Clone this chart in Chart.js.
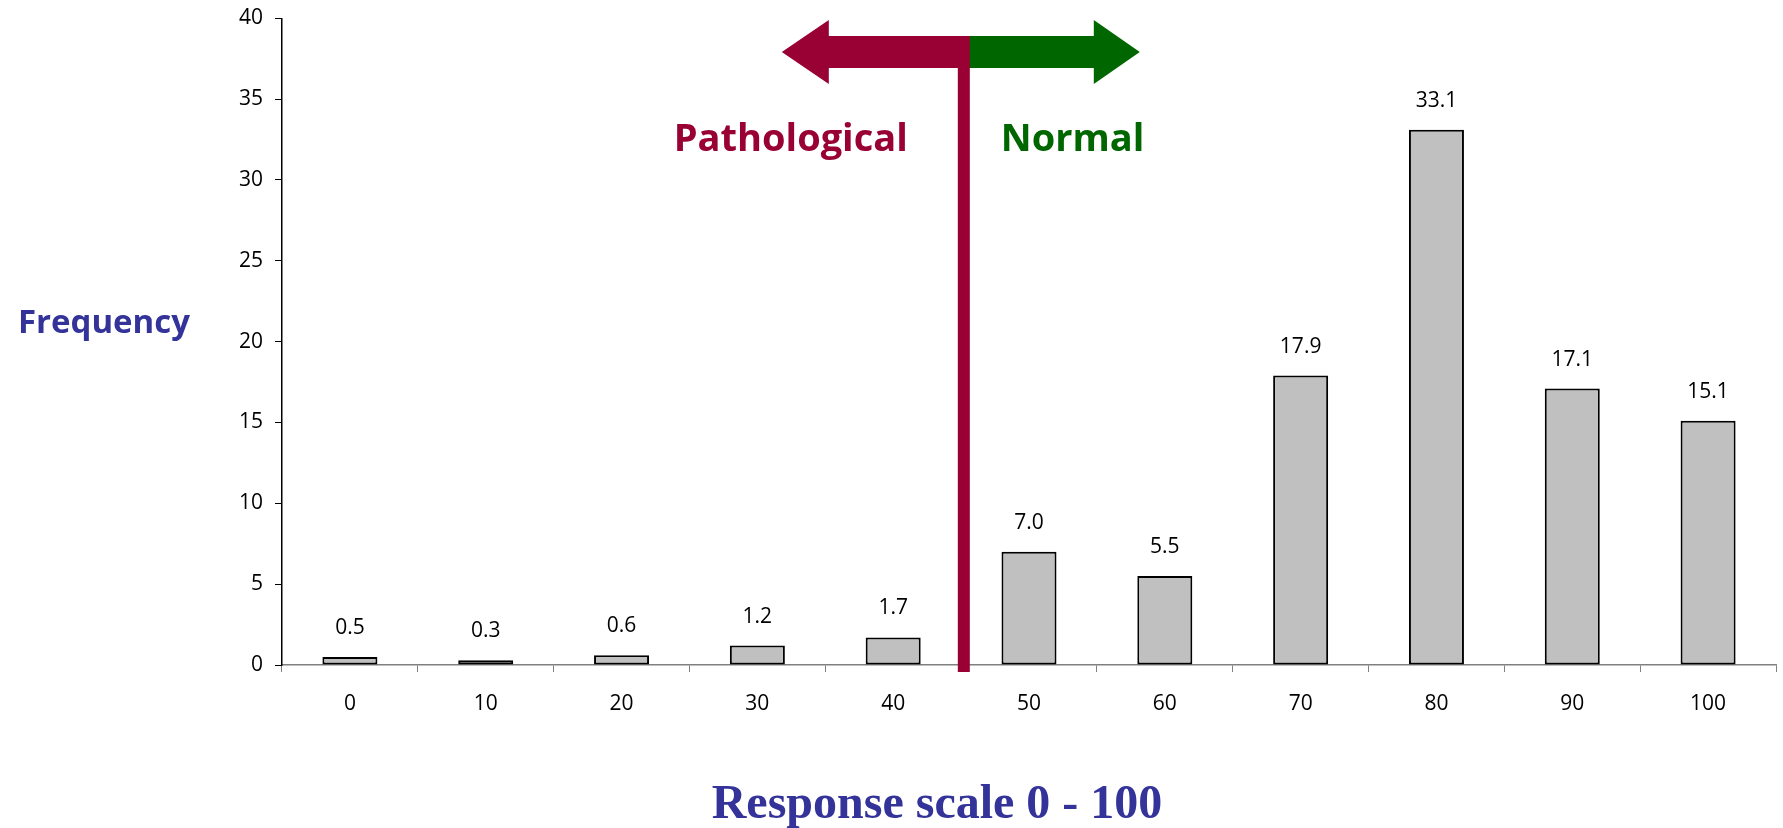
<!DOCTYPE html>
<html>
<head>
<meta charset="utf-8">
<script src="https://cdn.jsdelivr.net/npm/chart.js@4/dist/chart.umd.min.js"></script>
<style>
  html, body { margin: 0; padding: 0; background: #fff; }
  #wrap { position: relative; width: 1783px; height: 828px; }
</style>
</head>
<body>
<div id="wrap"><canvas id="freqChart" width="1783" height="828"></canvas></div>
<script>
// chart data
const categories = ['0', '10', '20', '30', '40', '50', '60', '70', '80', '90', '100'];
const frequencies = [0.5, 0.3, 0.6, 1.2, 1.7, 7.0, 5.5, 17.9, 33.1, 17.1, 15.1];
const yTicks = [0, 5, 10, 15, 20, 25, 30, 35, 40];
const cutoffIndex = 4.52; // just past halfway between 40 and 50

const BLUE = '#333399';
const PATH_RED = '#990033';
const NORM_GREEN = '#006600';

// value labels above each bar
const valueLabels = {
    id: 'valueLabels',
    afterDatasetsDraw(chart) {
        const ctx = chart.ctx;
        const meta = chart.getDatasetMeta(0);
        ctx.save();
        ctx.font = '21px "Open Sans"';
        ctx.fillStyle = '#000';
        ctx.textAlign = 'center';
        ctx.textBaseline = 'middle';
        meta.data.forEach((bar, i) => {
            ctx.fillText(frequencies[i].toFixed(1), bar.x, bar.y - 29);
        });
        ctx.restore();
    }
};

// cutoff line, arrows and texts
const annotations = {
    id: 'annotations',
    afterDraw(chart) {
        const ctx = chart.ctx;
        const x = chart.scales.x.getPixelForValue(cutoffIndex);
        const area = chart.chartArea;
        const midY = 52;
        ctx.save();

        // left arrow (pathological)
        ctx.fillStyle = PATH_RED;
        ctx.beginPath();
        ctx.moveTo(x, midY - 16);
        ctx.lineTo(x - 135, midY - 16);
        ctx.lineTo(x - 135, midY - 32);
        ctx.lineTo(x - 182, midY);
        ctx.lineTo(x - 135, midY + 32);
        ctx.lineTo(x - 135, midY + 16);
        ctx.lineTo(x, midY + 16);
        ctx.closePath();
        ctx.fill();

        // right arrow (normal)
        ctx.fillStyle = NORM_GREEN;
        ctx.beginPath();
        ctx.moveTo(x + 2, midY - 16);
        ctx.lineTo(x + 130, midY - 16);
        ctx.lineTo(x + 130, midY - 32);
        ctx.lineTo(x + 176, midY);
        ctx.lineTo(x + 130, midY + 32);
        ctx.lineTo(x + 130, midY + 16);
        ctx.lineTo(x + 2, midY + 16);
        ctx.closePath();
        ctx.fill();

        // vertical cutoff line
        ctx.fillStyle = PATH_RED;
        ctx.fillRect(x - 6, midY - 16, 12, area.bottom + 7 - (midY - 16));

        ctx.textBaseline = 'alphabetic';
        ctx.font = 'bold 38px "Open Sans"';
        ctx.textAlign = 'right';
        ctx.fillStyle = PATH_RED;
        ctx.fillText('Pathological', x - 56, 151);
        ctx.textAlign = 'left';
        ctx.fillStyle = NORM_GREEN;
        ctx.fillText('Normal', x + 37, 151);

        // axis titles
        ctx.fillStyle = BLUE;
        ctx.textAlign = 'center';
        ctx.font = 'bold 33px "Open Sans"';
        ctx.fillText('Frequency', 104, 333);
        ctx.font = 'bold 48px "Liberation Serif"';
        ctx.fillText('Response scale 0 - 100', 937, 818);
        ctx.restore();
    }
};

new Chart(document.getElementById('freqChart'), {
    type: 'bar',
    data: {
        labels: categories,
        datasets: [{
            data: frequencies,
            backgroundColor: '#C0C0C0',
            borderColor: '#000',
            borderWidth: 2,
            borderSkipped: false,
            barPercentage: 0.81,
            categoryPercentage: 0.5
        }]
    },
    options: {
        responsive: false,
        animation: false,
        layout: { padding: { left: 0, right: 7, top: 18, bottom: 0 } },
        plugins: {
            legend: { display: false },
            tooltip: { enabled: false }
        },
        scales: {
            x: {
                grid: {
                    offset: true,
                    drawOnChartArea: false,
                    tickLength: 7,
                    color: '#808080'
                },
                border: { color: '#808080', width: 1.5 },
                ticks: {
                    color: '#000',
                    font: { family: 'Open Sans', size: 21 },
                    padding: 19
                },
                afterFit(scale) { scale.height = 163; }
            },
            y: {
                min: 0,
                max: 40,
                afterBuildTicks(scale) {
                    scale.ticks = yTicks.map(v => ({ value: v }));
                },
                grid: {
                    drawOnChartArea: false,
                    tickLength: 7,
                    color: '#000'
                },
                border: { color: '#000', width: 1.5 },
                ticks: {
                    color: '#000',
                    font: { family: 'Open Sans', size: 21, lineHeight: 0.6 },
                    padding: 12
                },
                afterFit(scale) { scale.width = 282; }
            }
        }
    },
    plugins: [valueLabels, annotations]
});
</script>
</body>
</html>
